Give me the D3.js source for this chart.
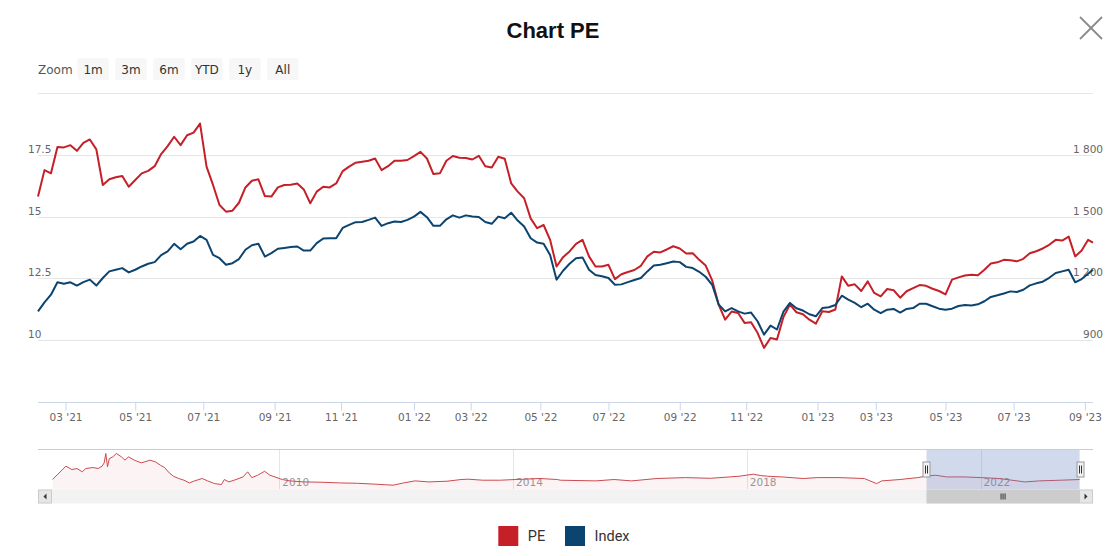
<!DOCTYPE html>
<html><head><meta charset="utf-8">
<script src="https://cdn.jsdelivr.net/npm/d3@7"></script>
<style>
html,body{margin:0;padding:0;background:#fff;}
svg{display:block;}
</style></head><body>
<svg id="c" width="1120" height="556"></svg>
<script>
// ---------------- DATA ----------------
const titleText = "Chart PE";
const startDate = "2021-01-28", endDate = "2023-09-12";
const holidays = ["2021-02-10","2021-02-11","2021-02-12","2021-02-15","2021-02-16","2021-04-21","2021-04-30","2021-05-03","2021-09-02","2021-09-03",
  "2022-01-03","2022-01-31","2022-02-01","2022-02-02","2022-02-03","2022-02-04","2022-04-11","2022-05-02","2022-05-03","2022-09-01","2022-09-02",
  "2023-01-02","2023-01-20","2023-01-23","2023-01-24","2023-01-25","2023-01-26","2023-05-01","2023-05-02","2023-05-03","2023-09-01","2023-09-04"];
const tickMonths = ["2021-03","2021-05","2021-07","2021-09","2021-11","2022-01","2022-03","2022-05","2022-07","2022-09","2022-11","2023-01","2023-03","2023-05","2023-07","2023-09"];
const leftTicks = [7.5, 10, 12.5, 15, 17.5, 20];
const rightTicks = [600, 900, 1200, 1500, 1800, 2100];
// PE sampled every 4th trading day (+ last day)
const pe = [15.81,16.88,16.75,17.82,17.80,17.89,17.66,17.98,18.12,17.72,
  16.28,16.51,16.59,16.64,16.21,16.48,16.75,16.85,17.04,17.53,
  17.85,18.23,17.89,18.29,18.40,18.76,17.02,16.28,15.47,15.20,
  15.24,15.56,16.18,16.45,16.51,15.83,15.81,16.18,16.28,16.29,
  16.34,16.10,15.54,16.01,16.21,16.18,16.34,16.84,17.02,17.18,
  17.22,17.26,17.35,16.88,17.04,17.26,17.26,17.29,17.45,17.62,
  17.35,16.72,16.75,17.26,17.45,17.38,17.37,17.31,17.46,17.04,
  16.99,17.42,17.34,16.34,16.01,15.74,14.93,14.53,14.66,14.06,
  12.98,13.36,13.59,13.90,14.06,13.39,12.98,12.98,13.05,12.47,
  12.67,12.76,12.84,13.01,13.39,13.58,13.55,13.67,13.80,13.71,
  13.51,13.52,13.25,13.02,12.42,11.44,10.83,11.16,11.10,10.70,
  10.73,10.30,9.69,10.09,10.03,10.94,11.44,11.13,11.05,10.83,
  10.67,11.17,11.14,11.24,12.58,12.20,12.26,11.99,12.38,11.91,
  11.77,12.07,12.02,11.72,11.98,12.11,12.23,12.20,12.08,11.99,
  11.85,12.45,12.54,12.62,12.65,12.63,12.85,13.10,13.15,13.25,
  13.23,13.19,13.29,13.52,13.60,13.71,13.86,14.06,14.03,14.19,
  13.39,13.63,14.06,13.95];
const indexVals = [1040,1084,1121,1181,1174,1181,1165,1182,1194,1165,
  1202,1234,1242,1250,1229,1242,1258,1271,1279,1313,
  1331,1368,1342,1368,1379,1406,1387,1314,1298,1266,
  1274,1294,1339,1361,1368,1306,1323,1344,1348,1352,
  1355,1335,1335,1371,1394,1395,1395,1445,1460,1473,
  1474,1484,1495,1455,1468,1476,1474,1484,1500,1523,
  1497,1455,1455,1487,1506,1495,1506,1500,1498,1474,
  1465,1500,1492,1519,1481,1452,1395,1374,1368,1314,
  1194,1237,1271,1298,1302,1242,1216,1210,1202,1169,
  1171,1182,1192,1202,1234,1263,1266,1274,1282,1279,
  1256,1250,1232,1208,1169,1073,1040,1056,1040,1029,
  1034,992,927,971,952,1039,1081,1055,1044,1026,
  1016,1056,1060,1071,1116,1097,1081,1060,1077,1048,
  1031,1048,1052,1034,1052,1056,1077,1077,1065,1053,
  1048,1053,1066,1071,1068,1074,1089,1110,1118,1127,
  1137,1134,1145,1166,1176,1184,1203,1226,1234,1242,
  1181,1197,1223,1242];
// Navigator (long history of PE)
const navDates = ["2006-02-13","2006-05-08","2006-06-14","2006-07-16","2006-08-18","2006-09-09","2006-10-23","2006-11-25","2006-12-20",
  "2007-01-02","2007-01-12","2007-01-23","2007-02-03","2007-02-25","2007-03-19","2007-04-20","2007-05-12","2007-06-03","2007-07-09","2007-08-22","2007-09-13","2007-10-16","2007-11-18","2007-12-20",
  "2008-01-15","2008-02-06","2008-03-10","2008-04-12","2008-05-15","2008-06-17","2008-07-20","2008-09-06","2008-10-09","2008-11-22",
  "2009-01-04","2009-01-22","2009-02-20","2009-04-05","2009-05-19","2009-06-17","2009-07-13","2009-08-18","2009-10-01","2009-11-03","2009-12-05",
  "2010-01-19","2010-03-07","2010-06-03","2010-09-24","2011-01-12","2011-05-05","2011-08-23","2011-12-13",
  "2012-02-17","2012-04-27","2012-07-24","2012-11-14","2013-02-10","2013-03-26","2013-06-25","2013-10-13",
  "2014-01-12","2014-06-18","2014-10-05","2014-10-23","2015-06-03","2015-09-24","2016-01-12","2016-06-18","2016-12-13",
  "2017-05-19","2017-11-14","2018-02-10","2018-03-29","2018-05-12","2018-08-08","2018-12-20","2019-03-18","2019-07-31",
  "2020-01-05","2020-03-22","2020-04-24","2020-08-15","2020-12-05","2021-01-19","2021-03-26","2021-06-03","2021-09-20",
  "2022-01-05","2022-04-27","2022-10-05","2023-01-03","2023-05-16","2023-09-12"];
const navPE = [13.5,25.3,22.3,23.2,20.3,23.2,24.1,23.2,25.3,
  28.2,36.5,24.7,32.0,33.5,36.5,33.5,30.6,33.5,30.6,28.2,29.1,30.6,29.1,26.1,
  24.1,20.3,16.4,14.4,12.9,10.5,12.3,14.4,12.3,9.9,
  9.1,13.5,11.4,13.5,15.8,20.3,15.2,17.3,20.8,17.3,15.8,
  13.5,12.3,11.4,11.1,10.5,10.2,9.4,8.5,
  10.5,12.3,11.4,12.0,13.5,13.8,12.9,12.9,
  13.5,14.4,13.5,12.9,12.3,13.5,12.3,14.4,15.2,
  14.6,16.4,18.2,17.0,16.4,15.8,14.4,15.2,15.2,
  14.4,9.9,12.3,13.5,15.2,16.4,17.3,15.8,15.8,
  15.2,14.4,11.4,12.3,12.9,13.5];
const navYears = [2010, 2014, 2018, 2022];
const zoomButtons = ["1m","3m","6m","YTD","1y","All"];
const seriesNames = ["PE","Index"];
const colors = {pe:"#c51f28", index:"#0c4470"};

// ---------------- LAYOUT ----------------
const W = 1120, H = 556;
const L = 38, R = 1093, T = 93, B = 402;
const navTop = 449.5, navH = 40, sbH = 14;
const navL = 52.5, navR = 1079.6;
const svg = d3.select("#c");
const tickFont = "DejaVu Sans, Verdana, sans-serif";

// title
svg.append("text").attr("x", 553).attr("y", 37.5).attr("text-anchor","middle")
  .style("font-family","Liberation Sans, Arial, sans-serif").style("font-weight","bold")
  .style("font-size","22px").attr("fill","#111").text(titleText);
// close icon
const cx = svg.append("g").attr("stroke","#8a8a8a").attr("stroke-width",1.8);
cx.append("line").attr("x1",1080).attr("y1",17).attr("x2",1102).attr("y2",39);
cx.append("line").attr("x1",1102).attr("y1",17).attr("x2",1080).attr("y2",39);

// zoom buttons
svg.append("text").attr("x",38).attr("y",73.5).style("font-family",tickFont).style("font-size","12px")
  .attr("fill","#555").text("Zoom");
const bx = d3.scaleBand().domain(zoomButtons).range([77.3, 77.3 + 37*zoomButtons.length]).paddingInner(0.15).paddingOuter(0);
const bg = svg.append("g").selectAll("g").data(zoomButtons).join("g")
  .attr("transform", d => `translate(${bx(d)},58)`);
bg.append("rect").attr("width", 31.5).attr("height", 22).attr("rx",2).attr("fill","#f7f7f7");
bg.append("text").attr("x",15.75).attr("y",15.5).attr("text-anchor","middle")
  .style("font-family",tickFont).style("font-size","12px").attr("fill","#333").text(d=>d);

// ---------------- SCALES ----------------
const parse = d3.timeParse("%Y-%m-%d");
const key = d3.timeFormat("%Y-%m-%d");
const hol = new Set(holidays);
const tradingDays = d3.timeDay.range(parse(startDate), d3.timeDay.offset(parse(endDate),1))
  .filter(d => d.getDay()!==0 && d.getDay()!==6 && !hol.has(key(d))).map(key);
const x = d3.scalePoint().domain(tradingDays).range([L, R]);
const sampleDays = tradingDays.filter((d,i)=> i%4===0);
if (sampleDays[sampleDays.length-1] !== tradingDays[tradingDays.length-1]) sampleDays.push(tradingDays[tradingDays.length-1]);
const yL = d3.scaleLinear().domain([7.5, 20]).range([B, T]);
const yR = d3.scaleLinear().domain([600, 2100]).range([B, T]);

// gridlines
svg.append("g").selectAll("line").data(leftTicks.filter(v=>v>7.5)).join("line")
  .attr("x1",L).attr("x2",R).attr("y1",d=>Math.round(yL(d))+0.5).attr("y2",d=>Math.round(yL(d))+0.5)
  .attr("stroke","#e6e6e6").attr("stroke-width",1);

// y labels (only interior)
svg.append("g").selectAll("text").data(leftTicks.slice(1,-1)).join("text")
  .attr("x",28).attr("y",d=>yL(d)-2).style("font-family",tickFont).style("font-size","10.5px")
  .attr("fill","#666").text(d=>String(d));
const fmtR = d3.formatLocale({decimal:".", thousands:" ", grouping:[3], currency:["",""]}).format(",");
svg.append("g").selectAll("text").data(rightTicks.slice(1,-1)).join("text")
  .attr("x",1103).attr("y",d=>yR(d)-2).attr("text-anchor","end").style("font-family",tickFont).style("font-size","10.5px")
  .attr("fill","#666").text(d=>fmtR(d));

// x axis
const tickDays = tickMonths.map(m => tradingDays.find(d => d >= m + "-01"));
const xAxis = d3.axisBottom(x).tickValues(tickDays).tickSize(8).tickPadding(3)
  .tickFormat(d => d.slice(5,7) + " '" + d.slice(2,4));
const gx = svg.append("g").attr("transform",`translate(0,${B+0.5})`).call(xAxis);
gx.select(".domain").attr("stroke","#ccd6eb").attr("d",`M${L},0H${R}`);
gx.selectAll(".tick line").attr("stroke","#ccd6eb");
gx.selectAll(".tick text").style("font-family",tickFont).style("font-size","10.5px").attr("fill","#666");

// series
const rows = sampleDays.map((d,i)=>({d, pe: pe[i], ix: indexVals[i]})).filter(r => r.pe!=null && r.ix!=null);
const linePE = d3.line().x(r=>x(r.d)).y(r=>yL(r.pe));
const lineIX = d3.line().x(r=>x(r.d)).y(r=>yR(r.ix));
svg.append("path").datum(rows).attr("d",linePE).attr("fill","none").attr("stroke",colors.pe)
  .attr("stroke-width",2).attr("stroke-linejoin","round");
svg.append("path").datum(rows).attr("d",lineIX).attr("fill","none").attr("stroke",colors.index)
  .attr("stroke-width",2).attr("stroke-linejoin","round");

// ---------------- NAVIGATOR ----------------
const navData = navDates.map((d,i)=>({t: parse(d), v: navPE[i]}));
const nx = d3.scaleTime().domain([parse(navDates[0]), parse(endDate)]).range([navL, navR]);
const ny = d3.scaleLinear().domain([4.7, 40]).range([navTop+navH, navTop]);
const nav = svg.append("g");
// year grid + labels
nav.selectAll("line.yr").data(navYears).join("line")
  .attr("x1",d=>Math.round(nx(new Date(d,0,1)))+0.5).attr("x2",d=>Math.round(nx(new Date(d,0,1)))+0.5)
  .attr("y1",navTop).attr("y2",navTop+navH).attr("stroke","#e6e6e6");
nav.selectAll("text.yr").data(navYears).join("text")
  .attr("x",d=>nx(new Date(d,0,1))+3).attr("y",navTop+navH-4)
  .style("font-family",tickFont).style("font-size","10.5px").attr("fill","#999").text(d=>d);
nav.append("path").datum(navData)
  .attr("d", d3.area().x(r=>nx(r.t)).y0(navTop+navH).y1(r=>ny(r.v)))
  .attr("fill","rgba(205,60,66,0.06)");
nav.append("path").datum(navData)
  .attr("d", d3.line().x(r=>nx(r.t)).y(r=>ny(r.v)))
  .attr("fill","none").attr("stroke","#cc4a50").attr("stroke-width",1);
// mask for selected range
const selL = nx(parse(startDate)), selR = nx(parse(endDate));
nav.append("rect").attr("x",selL).attr("y",navTop).attr("width",selR-selL).attr("height",navH)
  .attr("fill","rgba(102,133,194,0.3)");
// outline
nav.append("line").attr("x1",L).attr("x2",R).attr("y1",navTop).attr("y2",navTop).attr("stroke","#cccccc");
// handles
[selL, selR].forEach(hx => {
  const g = nav.append("g").attr("transform",`translate(${Math.round(hx)-3.5},${navTop+12})`);
  g.append("rect").attr("x",0.5).attr("y",0.5).attr("width",7).attr("height",15).attr("fill","#f2f2f2").attr("stroke","#999");
  g.append("line").attr("x1",3).attr("x2",3).attr("y1",4).attr("y2",12).attr("stroke","#333");
  g.append("line").attr("x1",5).attr("x2",5).attr("y1",4).attr("y2",12).attr("stroke","#333");
});
// scrollbar
const sbY = navTop + navH;
nav.append("rect").attr("x",L).attr("y",sbY).attr("width",R-L).attr("height",sbH).attr("fill","#f2f2f2");
nav.append("rect").attr("x",selL).attr("y",sbY).attr("width",selR-selL).attr("height",sbH).attr("fill","#cccccc");
[0,1,2].forEach(i => nav.append("line").attr("x1",(selL+selR)/2-2+i*2).attr("x2",(selL+selR)/2-2+i*2)
  .attr("y1",sbY+4).attr("y2",sbY+10).attr("stroke","#333"));
[[L, -1],[R-sbH, 1]].forEach(([bx0, dir]) => {
  nav.append("rect").attr("x",bx0+0.5).attr("y",sbY+0.5).attr("width",sbH-1).attr("height",sbH-1)
    .attr("fill","#e6e6e6").attr("stroke","#cccccc");
  const cx0 = bx0 + sbH/2, cy0 = sbY + sbH/2;
  nav.append("path").attr("d", dir<0 ? `M${cx0+1.5},${cy0-3}L${cx0-1.5},${cy0}L${cx0+1.5},${cy0+3}Z` : `M${cx0-1.5},${cy0-3}L${cx0+1.5},${cy0}L${cx0-1.5},${cy0+3}Z`)
    .attr("fill","#333");
});

// ---------------- LEGEND ----------------
const lg = svg.append("g");
const legX = [498.3, 565];
seriesNames.forEach((n,i)=>{
  lg.append("rect").attr("x",legX[i]).attr("y",526).attr("width",20).attr("height",20)
    .attr("fill", i===0 ? colors.pe : colors.index);
  lg.append("text").attr("x",legX[i]+29.5).attr("y",541).style("font-family","Roboto, sans-serif")
    .style("font-size","14.5px").attr("fill","#333").text(n);
});
</script>
</body></html>
